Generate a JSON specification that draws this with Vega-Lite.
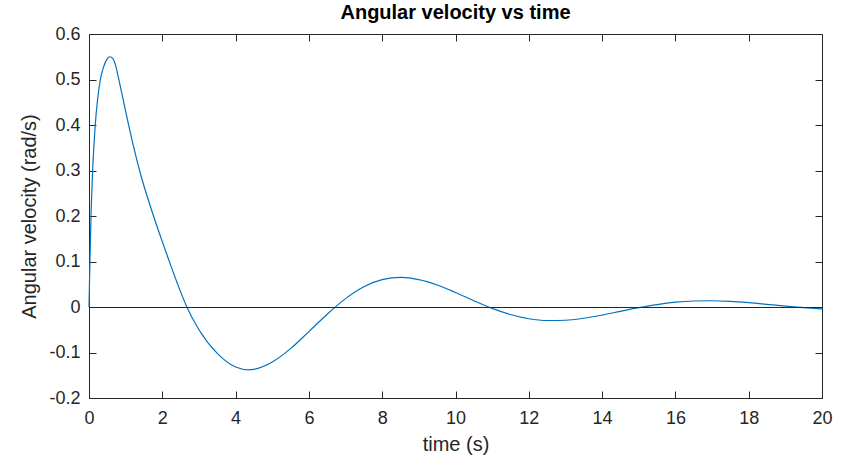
{
  "$schema": "https://vega.github.io/schema/vega-lite/v6.json",
  "width": 733,
  "height": 364,
  "autosize": {"type": "none"},
  "padding": {"left": 89, "top": 34, "right": 24, "bottom": 61},
  "background": "white",
  "title": {"text": "Angular velocity vs time", "fontSize": 20, "font": "Liberation Sans", "fontWeight": "bold", "color": "#000000", "offset": 2, "anchor": "middle"},
  "config": {
    "view": {"stroke": null},
    "font": "Liberation Sans",
    "axis": {
      "grid": false,
      "domainColor": "#262626",
      "domainWidth": 1,
      "tickColor": "#262626",
      "tickSize": -7,
      "labelFlush": false,
      "labelColor": "#262626",
      "labelFontSize": 18,
      "labelFont": "Liberation Sans",
      "titleFont": "Liberation Sans",
      "titleFontSize": 20,
      "titleFontWeight": "normal",
      "titleColor": "#262626"
    }
  },
  "data": {"values": [
    {"t": 0, "v": 0},
    {"t": 0.025, "v": 0.1},
    {"t": 0.055, "v": 0.2},
    {"t": 0.1, "v": 0.3},
    {"t": 0.17, "v": 0.4},
    {"t": 0.24, "v": 0.46},
    {"t": 0.31, "v": 0.5},
    {"t": 0.4, "v": 0.528},
    {"t": 0.5, "v": 0.546},
    {"t": 0.573, "v": 0.55},
    {"t": 0.65, "v": 0.546},
    {"t": 0.73, "v": 0.53},
    {"t": 0.8, "v": 0.505},
    {"t": 0.9, "v": 0.468},
    {"t": 1.0, "v": 0.43},
    {"t": 1.1, "v": 0.393},
    {"t": 1.2, "v": 0.358},
    {"t": 1.3, "v": 0.325},
    {"t": 1.4, "v": 0.294},
    {"t": 1.5, "v": 0.266},
    {"t": 1.6, "v": 0.24},
    {"t": 1.76, "v": 0.2},
    {"t": 1.96, "v": 0.153},
    {"t": 2.17, "v": 0.105},
    {"t": 2.42, "v": 0.05},
    {"t": 2.67, "v": 0},
    {"t": 3.0, "v": -0.05},
    {"t": 3.5, "v": -0.102},
    {"t": 4.0, "v": -0.132},
    {"t": 4.35, "v": -0.138},
    {"t": 4.5, "v": -0.137},
    {"t": 5.0, "v": -0.121},
    {"t": 5.5, "v": -0.0914},
    {"t": 6.0, "v": -0.054},
    {"t": 6.5, "v": -0.0158},
    {"t": 7.0, "v": 0.0184},
    {"t": 7.5, "v": 0.0445},
    {"t": 8.0, "v": 0.06},
    {"t": 8.5, "v": 0.065},
    {"t": 9.0, "v": 0.0603},
    {"t": 9.5, "v": 0.0483},
    {"t": 10.0, "v": 0.0319},
    {"t": 10.5, "v": 0.0139},
    {"t": 11.0, "v": -0.0029},
    {"t": 11.5, "v": -0.0165},
    {"t": 12.0, "v": -0.0258},
    {"t": 12.5, "v": -0.0297},
    {"t": 13.0, "v": -0.0291},
    {"t": 13.5, "v": -0.0247},
    {"t": 14.0, "v": -0.0177},
    {"t": 14.5, "v": -0.0095},
    {"t": 15.0, "v": -0.0015},
    {"t": 15.5, "v": 0.0054},
    {"t": 16.0, "v": 0.0105},
    {"t": 16.5, "v": 0.0132},
    {"t": 17.0, "v": 0.0137},
    {"t": 17.5, "v": 0.0123},
    {"t": 18.0, "v": 0.0095},
    {"t": 18.5, "v": 0.0059},
    {"t": 19.0, "v": 0.002},
    {"t": 19.5, "v": -0.0014},
    {"t": 20.0, "v": -0.0041}
  ]},
  "layer": [
    {
      "mark": {"type": "line", "color": "#0072BD", "strokeWidth": 1.2, "interpolate": "monotone"},
      "encoding": {
        "x": {"field": "t", "type": "quantitative", "scale": {"domain": [0, 20], "nice": false, "zero": false},
              "axis": {"orient": "bottom", "title": "time (s)", "values": [0,2,4,6,8,10,12,14,16,18,20], "labelPadding": 18, "titlePadding": 7}},
        "y": {"field": "v", "type": "quantitative", "scale": {"domain": [-0.2, 0.6], "nice": false, "zero": false},
              "axis": {"orient": "left", "title": "Angular velocity (rad/s)", "values": [-0.2,-0.1,0,0.1,0.2,0.3,0.4,0.5,0.6], "format": ".1~f", "labelExpr": "replace(datum.label, '\u2212', '-')", "labelPadding": 16, "titlePadding": 9}}
      }
    },
    {
      "mark": {"type": "rule", "color": "#262626", "strokeWidth": 1, "yOffset": 0.5},
      "encoding": {
        "y": {"datum": 0, "type": "quantitative",
              "axis": {"orient": "right", "labels": false, "title": null, "values": [-0.2,-0.1,0,0.1,0.2,0.3,0.4,0.5,0.6]}},
        "x": {"datum": 0, "type": "quantitative",
              "axis": {"orient": "top", "labels": false, "title": null, "values": [0,2,4,6,8,10,12,14,16,18,20]}},
        "x2": {"datum": 20}
      }
    }
  ],
  "resolve": {"axis": {"x": "independent", "y": "independent"}}
}
